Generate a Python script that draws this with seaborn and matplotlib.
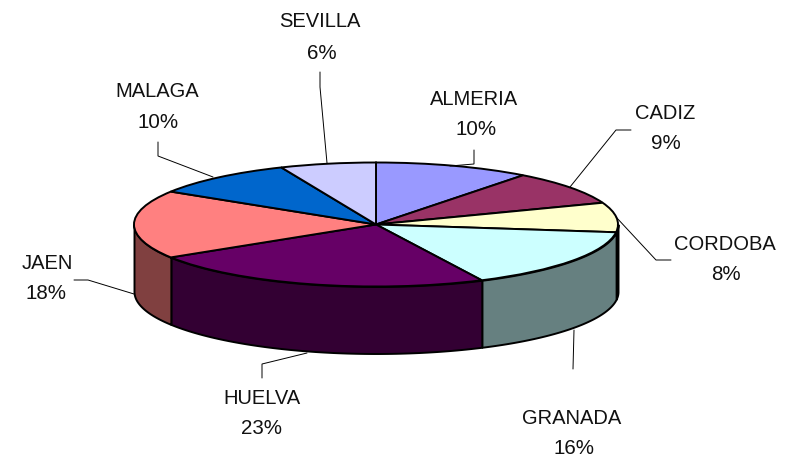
import numpy as np
import matplotlib
matplotlib.use("Agg")
import matplotlib.pyplot as plt
import seaborn as sns

# ---- data ----
provinces = ["ALMERIA", "CADIZ", "CORDOBA", "GRANADA", "HUELVA", "JAEN", "MALAGA", "SEVILLA"]
shares = [10.4, 8.9, 7.7, 15.8, 23.3, 17.8, 9.7, 6.4]
top_colors = ["#9999FF", "#993366", "#FFFFCC", "#CCFFFF", "#660066", "#FF8080", "#0066CC", "#CCCCFF"]
side_colors = ["#4D4D80", "#4D1A33", "#808066", "#668080", "#330033", "#804040", "#003366", "#666680"]

# ---- layout (pixels of the 785x459 figure) ----
W, H = 785, 459
CX, CY, RX, RY, DEPTH = 376, 224.5, 242, 62, 67
name_xy = [(474, 99.5), (665, 113.5), (725, 244.5), (572, 418.5), (262, 398.5), (47, 263.5), (157, 91.5), (320, 21.5)]
pct_xy = [(476, 129.5), (666, 143.5), (726, 274.5), (574, 448.5), (262, 428.5), (46, 293.5), (158, 122.5), (322, 53.5)]
leaders = [
    [(474, 150), (474, 164), (450, 166)],
    [(631, 130), (616, 130), (570, 187)],
    [(671, 260), (656, 260), (616, 217)],
    [(573, 369), (574, 330)],
    [(262, 378), (262, 364), (307, 353)],
    [(74, 280), (88, 280), (134, 294)],
    [(158, 142), (158, 156), (213, 177)],
    [(320, 72), (320, 87), (327, 163)],
]

sns.set_theme(style="white")
plt.rcParams["font.family"] = ["Liberation Sans", "DejaVu Sans"]

fig = plt.figure(figsize=(W / 100, H / 100), dpi=100, facecolor="white")

# unit-circle pie axes, squashed so that the circle becomes the tilted ellipse
ax = fig.add_axes([0, 0, 1, 1])
ax.axis("off")

edges = np.cumsum([0] + shares) / sum(shares) * 360.0
for i in range(len(shares)):
    lo, hi = max(edges[i], 90.0), min(edges[i + 1], 270.0)
    if hi <= lo:
        continue
    t = np.radians(np.linspace(lo, hi, 80))
    ax.fill_between(np.sin(t), np.cos(t), np.cos(t) - DEPTH / RY,
                    facecolor=side_colors[i], edgecolor="black", linewidth=1.4, zorder=1)

wedges, _ = ax.pie(shares, colors=sns.color_palette(top_colors), startangle=90, counterclock=False,
                   wedgeprops=dict(edgecolor="black", linewidth=1.4, zorder=2))
ax.set_aspect("auto")
ax.set_xlim(-CX / RX, (W - CX) / RX)
ax.set_ylim(-(H - CY) / RY, CY / RY)

# overlay axes in figure pixels for the labels and leader lines
ov = fig.add_axes([0, 0, 1, 1], facecolor="none")
ov.set_xlim(0, W)
ov.set_ylim(H, 0)
ov.axis("off")

for path in leaders:
    xs, ys = zip(*path)
    ov.plot(xs, ys, color="black", linewidth=0.7, solid_joinstyle="miter")

for name, share, nxy, pxy in zip(provinces, shares, name_xy, pct_xy):
    ov.text(nxy[0], nxy[1], name, fontsize=14.5, color="#111111", ha="center", va="center")
    ov.text(pxy[0], pxy[1], f"{share:.0f}%", fontsize=14.8, color="#111111", ha="center", va="center")

fig.savefig("out.png", dpi=100, facecolor="white")
